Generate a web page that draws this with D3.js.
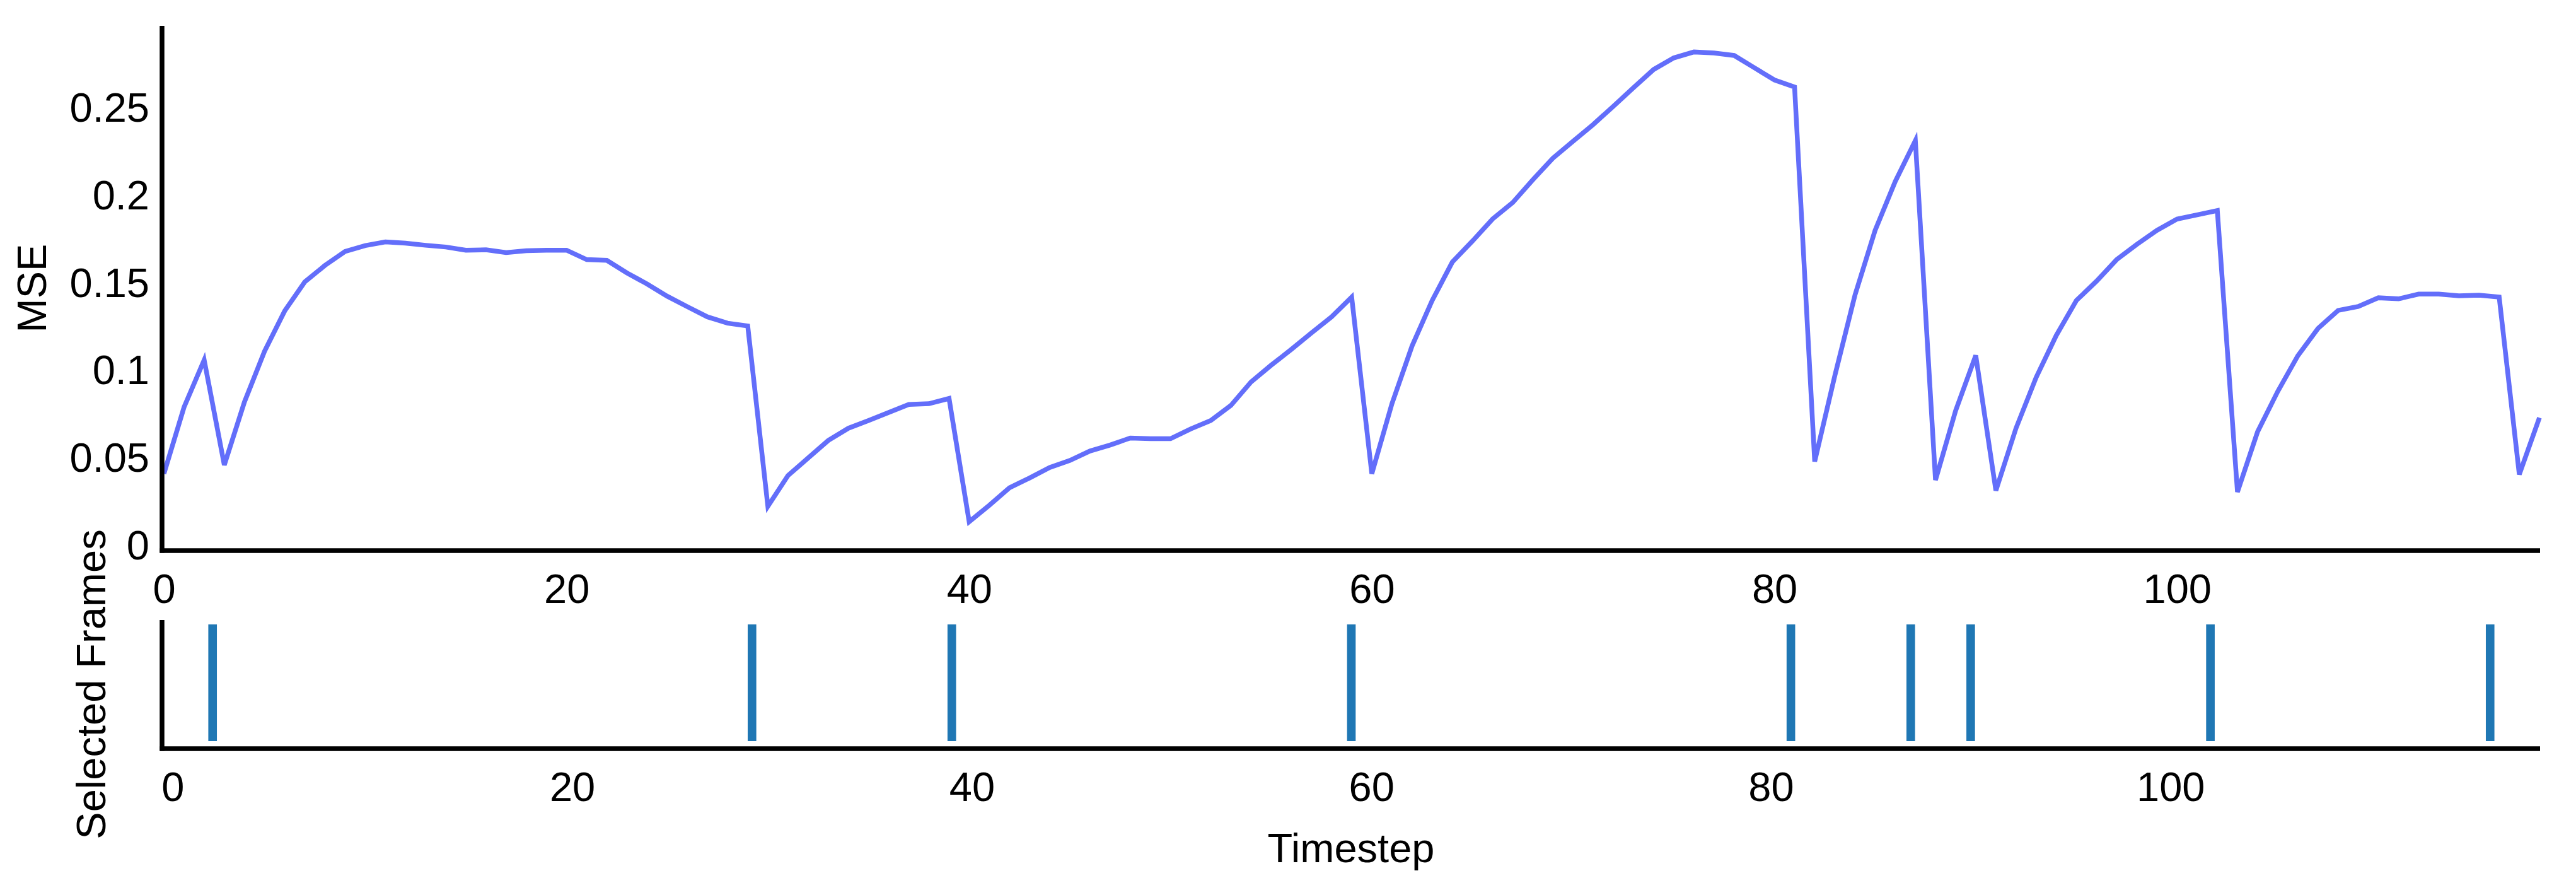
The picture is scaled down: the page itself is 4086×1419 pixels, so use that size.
<!DOCTYPE html>
<html>
<head>
<meta charset="utf-8">
<script src="https://cdn.jsdelivr.net/npm/d3@7"></script>
<style>
  body { margin: 0; background: #fff; }
  text { font-family: "Liberation Sans", Arial, sans-serif; fill: #000; }
</style>
</head>
<body>
<script>
// MSE per timestep (index = timestep)
const mse = [
  0.0403, 0.0783, 0.1053, 0.0453, 0.0813, 0.1103, 0.1333, 0.1499, 0.1593, 0.1673,
  0.1706, 0.1727, 0.1720, 0.1708, 0.1698, 0.1680, 0.1682, 0.1666, 0.1677, 0.1680,
  0.1680, 0.1626, 0.1622, 0.1550, 0.1487, 0.1417, 0.1357, 0.1299, 0.1263, 0.1247,
  0.0217, 0.0393, 0.0493, 0.0593, 0.0663, 0.0707, 0.0753, 0.0799, 0.0803, 0.0833,
  0.0129, 0.0223, 0.0323, 0.0379, 0.0439, 0.0479, 0.0533, 0.0567, 0.0607, 0.0603,
  0.0603, 0.0659, 0.0707, 0.0793, 0.0927, 0.1023, 0.1113, 0.1207, 0.1299, 0.1412,
  0.0403, 0.0803, 0.1133, 0.1393, 0.1612, 0.1732, 0.1858, 0.1952, 0.2082, 0.2206,
  0.2302, 0.2398, 0.2502, 0.2608, 0.2712, 0.2778, 0.2812, 0.2806, 0.2792, 0.2722,
  0.2652, 0.2612, 0.0473, 0.0963, 0.1423, 0.1793, 0.2072, 0.2306, 0.0367, 0.0763,
  0.1079, 0.0307, 0.0663, 0.0953, 0.1193, 0.1393, 0.1503, 0.1626, 0.1713, 0.1793,
  0.1858, 0.1882, 0.1906, 0.0299, 0.0643, 0.0873, 0.1077, 0.1233, 0.1336, 0.1358,
  0.1408, 0.1402, 0.1429, 0.1429, 0.1419, 0.1423, 0.1412, 0.0399, 0.0723
];

// frames picked by the selector
const selectedFrames = [2, 29, 39, 59, 81, 87, 90, 102, 116];

const xTicks = [0, 20, 40, 60, 80, 100];
const yTicks = [0, 0.05, 0.1, 0.15, 0.2, 0.25];
const yTickLabels = ["0", "0.05", "0.1", "0.15", "0.2", "0.25"];

const width = 4086, height = 1419;
const axisColor = "#000", axisWidth = 7.5;
const fontSize = 65;

const svg = d3.select("body")
  .append("svg")
    .attr("width", width)
    .attr("height", height)
    .style("display", "block");

// ---- top panel: MSE line ----
const x = d3.scaleLinear().domain([0, 118]).range([260, 4028]);
const y = d3.scaleLinear().domain([0, 0.25]).range([863, 169]);

const topG = svg.append("g");

// x tick labels
topG.append("g")
    .attr("transform", "translate(0,873)")
    .call(d3.axisBottom(x).tickValues(xTicks).tickSize(0).tickPadding(37))
    .call(g => g.select(".domain").remove())
    .selectAll("text")
      .style("font-size", fontSize + "px")
      .style("font-family", "Liberation Sans, Arial, sans-serif")
      .attr("fill", "#000");

// y tick labels
topG.append("g")
    .attr("transform", "translate(257,0)")
    .call(d3.axisLeft(y).tickValues(yTicks).tickSize(0).tickPadding(20)
      .tickFormat((d, i) => yTickLabels[i]))
    .call(g => g.select(".domain").remove())
    .selectAll("text")
      .attr("dy", "0.36em")
      .style("font-size", fontSize + "px")
      .style("font-family", "Liberation Sans, Arial, sans-serif")
      .attr("fill", "#000");

// the line
topG.append("path")
    .datum(mse)
    .attr("fill", "none")
    .attr("stroke", "#636efa")
    .attr("stroke-width", 7.5)
    .attr("d", d3.line()
      .x((d, i) => x(i))
      .y(d => y(d)));

// axis lines
topG.append("line")
    .attr("x1", 257).attr("x2", 257)
    .attr("y1", 41).attr("y2", 876.5)
    .attr("stroke", axisColor).attr("stroke-width", axisWidth);
topG.append("line")
    .attr("x1", 253.5).attr("x2", 4029)
    .attr("y1", 873).attr("y2", 873)
    .attr("stroke", axisColor).attr("stroke-width", axisWidth);

// y axis title
topG.append("text")
    .attr("transform", "translate(73,457) rotate(-90)")
    .attr("text-anchor", "middle")
    .style("font-size", fontSize + "px")
    .text("MSE");

// ---- bottom panel: selected frames ----
const x2 = d3.scaleLinear().domain([-0.5, 118.5]).range([258, 4029]);
const y2 = d3.scaleLinear().domain([0, 1]).range([1175, 990]);
const barW = 0.43;

const bottomG = svg.append("g");

bottomG.append("g")
    .attr("transform", "translate(0,1187)")
    .call(d3.axisBottom(x2).tickValues(xTicks).tickSize(0).tickPadding(37))
    .call(g => g.select(".domain").remove())
    .selectAll("text")
      .style("font-size", fontSize + "px")
      .style("font-family", "Liberation Sans, Arial, sans-serif")
      .attr("fill", "#000");

bottomG.selectAll(".frame")
    .data(selectedFrames)
  .enter().append("rect")
    .attr("class", "frame")
    .attr("x", d => x2(d - barW / 2))
    .attr("width", d => x2(d + barW / 2) - x2(d - barW / 2))
    .attr("y", y2(1))
    .attr("height", y2(0) - y2(1))
    .attr("fill", "#1f77b4");

bottomG.append("line")
    .attr("x1", 257).attr("x2", 257)
    .attr("y1", 983).attr("y2", 1190.5)
    .attr("stroke", axisColor).attr("stroke-width", axisWidth);
bottomG.append("line")
    .attr("x1", 253.5).attr("x2", 4029)
    .attr("y1", 1187).attr("y2", 1187)
    .attr("stroke", axisColor).attr("stroke-width", axisWidth);

bottomG.append("text")
    .attr("transform", "translate(167,1085) rotate(-90)")
    .attr("text-anchor", "middle")
    .style("font-size", fontSize + "px")
    .text("Selected Frames");

// x axis title
svg.append("text")
    .attr("x", 2143)
    .attr("y", 1367)
    .attr("text-anchor", "middle")
    .style("font-size", fontSize + "px")
    .text("Timestep");
</script>
</body>
</html>
